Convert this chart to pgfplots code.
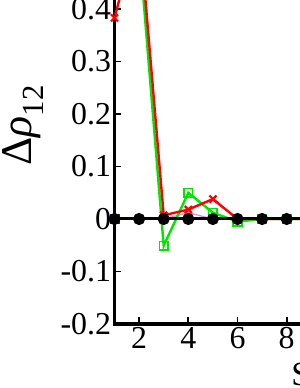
\documentclass[border=0pt]{standalone}
\usepackage{fontspec}
\setmainfont{Liberation Serif}
\usepackage{pgfplots}
\pgfplotsset{compat=1.18}
\definecolor{myred}{RGB}{255,0,0}
\definecolor{mygreen}{RGB}{0,230,0}
\definecolor{myblue}{RGB}{20,40,170}
\definecolor{mymag}{RGB}{200,140,230}
\begin{document}
\begin{tikzpicture}
\begin{axis}[name=ax, x=24.6bp, y=525bp,
  xmin=1, xmax=20, ymin=-0.2, ymax=0.56,
  axis line style={line width=3.5bp},
  tick align=inside, major tick length=7bp,
  tick style={line width=1.8bp, black},
  xtick={2,4,6,8,10,12,14,16,18,20},
  ytick={-0.2,-0.1,0,0.1,0.2,0.3,0.4,0.5},
  yticklabels={-0.2,-0.1,0,0.1,0.2,0.3,0.4,0.5},
  ticklabel style={font=\fontsize{32}{32}\selectfont},
  /pgf/number format/assume math mode=true,
  xlabel={Site},
  xlabel style={at={(axis cs:8.18,-0.2)}, anchor=north west, inner sep=0pt, yshift=-39bp, font=\fontsize{34}{34}\selectfont},
  ylabel={Δ\textit{ρ}\textsubscript{12}},
  ylabel style={at={([xshift=-91.5bp]axis cs:1,0.179)}, anchor=center, inner sep=0pt, font=\fontsize{44}{44}\selectfont},
]
\addplot[only marks, mark=square*, mark size=4.5bp, myblue] coordinates {(1,0)};
\addplot[mymag, line width=1.2bp, mark=triangle, mark size=4.5bp, mark options={line width=1.2bp}] coordinates {(1,0)(2,0)(3,0)(4,0.012)(5,0)(6,0)(7,0)(8,0)(9,0)(10,0)};
\addplot[mygreen, line width=2.4bp, mark=square, mark size=4.3bp, mark options={line width=1.5bp}] coordinates {(1,0.50)(2,0.52)(3,-0.051)(4,0.050)(5,0.012)(6,-0.005)(7,0)(8,0)(9,0)(10,0)};
\addplot[myred, line width=2.4bp, mark=x, mark size=5bp, mark options={line width=2.2bp}] coordinates {(1,0.383)(2,0.56)(3,0.007)(4,0.018)(5,0.038)(6,0)(7,0)(8,0)(9,0)(10,0)};
\addplot[black, line width=3bp, mark=*, mark size=4.5bp] coordinates {(1,0)(2,0)(3,0)(4,0)(5,0)(6,0)(7,0)(8,0)(9,0)(10,0)(11,0)(12,0)(13,0)(14,0)(15,0)(16,0)(17,0)(18,0)(19,0)(20,0)};
\end{axis}
\pgfresetboundingbox
\path[use as bounding box] ([shift={(-114.5bp,-64bp)}]ax.south west) rectangle ([shift={(185.5bp,324bp)}]ax.south west);
\end{tikzpicture}
\end{document}
